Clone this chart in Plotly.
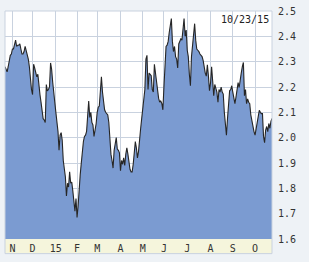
import pandas as pd
import plotly.graph_objects as go

# Market holidays (no trading) within the window
holidays = ["2014-11-27", "2014-12-25", "2015-01-01", "2015-01-19", "2015-02-16",
            "2015-04-03", "2015-05-25", "2015-07-03", "2015-09-07"]

# Daily closing values, 2014-10-23 .. 2015-10-23
values = [
    2.28, 2.27, 2.26, 2.28, 2.31, 2.325, 2.33, 2.35, 2.35,
    2.37, 2.385, 2.36, 2.365, 2.365, 2.37, 2.35, 2.33, 2.33, 2.34,
    2.36, 2.345, 2.33, 2.31, 2.28, 2.23, 2.19, 2.17, 2.29,
    2.275, 2.26, 2.24, 2.25, 2.19, 2.17, 2.14, 2.10, 2.075, 2.07,
    2.06, 2.21, 2.185, 2.19, 2.20, 2.295, 2.27, 2.22, 2.19,
    2.14, 2.10, 2.06, 2.025, 1.95, 2.01, 2.02, 1.99, 1.91, 1.87,
    1.845, 1.77, 1.82, 1.805, 1.865, 1.82, 1.825, 1.79, 1.73,
    1.71, 1.76, 1.685, 1.73, 1.82, 1.855, 1.90, 1.96, 1.985, 2.005,
    2.01, 2.025, 2.10, 2.145, 2.08, 2.10, 2.06, 2.05, 2.005,
    2.025, 2.055, 2.10, 2.12, 2.125, 2.18, 2.24, 2.18, 2.14, 2.11,
    2.10, 2.095, 2.09, 2.06, 1.99, 1.935, 1.91, 1.88, 1.95,
    1.985, 2.0, 1.955, 1.95, 1.94, 1.87, 1.91, 1.895, 1.92, 1.89,
    1.935, 1.96, 1.935, 1.89, 1.875, 1.865, 1.865, 1.895, 1.95,
    1.985, 1.96, 1.92, 1.945, 2.005, 2.035, 2.075, 2.115, 2.135, 2.19,
    2.31, 2.325, 2.19, 2.255, 2.25, 2.245, 2.19, 2.18, 2.29,
    2.255, 2.225, 2.19, 2.155, 2.14, 2.145, 2.135, 2.11, 2.20, 2.31,
    2.36, 2.365, 2.38, 2.415, 2.45, 2.47, 2.38, 2.34, 2.36,
    2.32, 2.31, 2.275, 2.37, 2.38, 2.39, 2.385, 2.425, 2.47, 2.40,
    2.425, 2.345, 2.32, 2.25, 2.205, 2.32, 2.37, 2.42, 2.45,
    2.385, 2.35, 2.345, 2.34, 2.33, 2.325, 2.32, 2.305, 2.275, 2.255,
    2.243, 2.288, 2.243, 2.185, 2.217, 2.28, 2.224, 2.166, 2.21,
    2.19, 2.18, 2.14, 2.19, 2.18, 2.20, 2.18, 2.172, 2.10,
    2.044, 2.01, 2.076, 2.134, 2.185, 2.19, 2.205, 2.18, 2.153, 2.134,
    2.16, 2.19, 2.217, 2.198, 2.237, 2.256, 2.28, 2.297, 2.166,
    2.19, 2.134, 2.153, 2.14, 2.134, 2.09, 2.064, 2.037, 2.024, 2.01,
    2.037, 2.056, 2.076, 2.108, 2.10, 2.095, 2.095, 2.005, 1.98,
    2.03, 2.044, 2.024, 2.056, 2.037, 2.064, 2.076,
]

tick_dates = ["2014-11-03", "2014-12-01", "2015-01-02", "2015-02-02", "2015-03-02",
              "2015-04-01", "2015-05-01", "2015-06-01", "2015-07-01", "2015-08-03",
              "2015-09-01", "2015-10-01"]
tick_labels = ["N", "D", "15", "F", "M", "A", "M", "J", "J", "A", "S", "O"]

y_ticks = [1.6, 1.7, 1.8, 1.9, 2.0, 2.1, 2.2, 2.3, 2.4, 2.5]
last_label = "10/23/15"

dates = pd.bdate_range("2014-10-23", "2015-10-23", freq="C", holidays=holidays)
n = min(len(dates), len(values))
if len(dates) != len(values):
    print("length mismatch", len(dates), len(values))
dates = dates[:n]
vals = values[:n]

FILL = "#7b9bd1"
GRID = "#c9d2df"
BG = "#eef2f6"
MONO = "DejaVu Sans Mono"

fig = go.Figure()
fig.add_trace(go.Scatter(
    x=dates, y=vals, mode="lines", fill="tozeroy",
    fillcolor=FILL, line=dict(color="#262626", width=1.1),
    hoverinfo="skip", showlegend=False,
))

band = 15 / 234
fig.update_layout(
    width=309, height=262,
    margin=dict(l=5, r=37, t=5, b=23),
    paper_bgcolor=BG, plot_bgcolor="white",
    xaxis=dict(
        range=[dates[0], dates[-1]],
        rangebreaks=[dict(bounds=["sat", "mon"]), dict(values=holidays)],
        tickmode="array", tickvals=tick_dates, ticktext=tick_labels,
        showgrid=True, gridcolor=GRID, gridwidth=1,
        zeroline=False, showline=False, ticks="",
        tickfont=dict(family=MONO, size=10, color="#333333"),
        ticklabelstandoff=2,
    ),
    yaxis=dict(
        range=[1.6, 2.5], side="right",
        tickmode="array", tickvals=y_ticks,
        ticktext=[f"{v:.1f}" for v in y_ticks],
        showgrid=True, gridcolor=GRID, gridwidth=1,
        zeroline=False, showline=False, ticks="",
        tickfont=dict(family=MONO, size=10, color="#333333"),
        ticklabelstandoff=5, ticklabeloverflow="allow",
    ),
    shapes=[
        dict(type="rect", xref="paper", yref="paper", x0=0, x1=1, y0=-band, y1=0,
             fillcolor="#f5f5dc", line=dict(width=0), layer="below"),
        dict(type="rect", xref="paper", yref="paper", x0=0, x1=1, y0=-band, y1=1,
             fillcolor="rgba(0,0,0,0)", line=dict(color=GRID, width=1), layer="above"),
    ],
    annotations=[
        dict(text=last_label, xref="paper", yref="paper", x=1, y=1,
             xanchor="right", yanchor="top", xshift=-1, yshift=-1, showarrow=False,
             font=dict(family=MONO, size=10, color="#222222")),
    ],
)

fig.write_html("out.html")
